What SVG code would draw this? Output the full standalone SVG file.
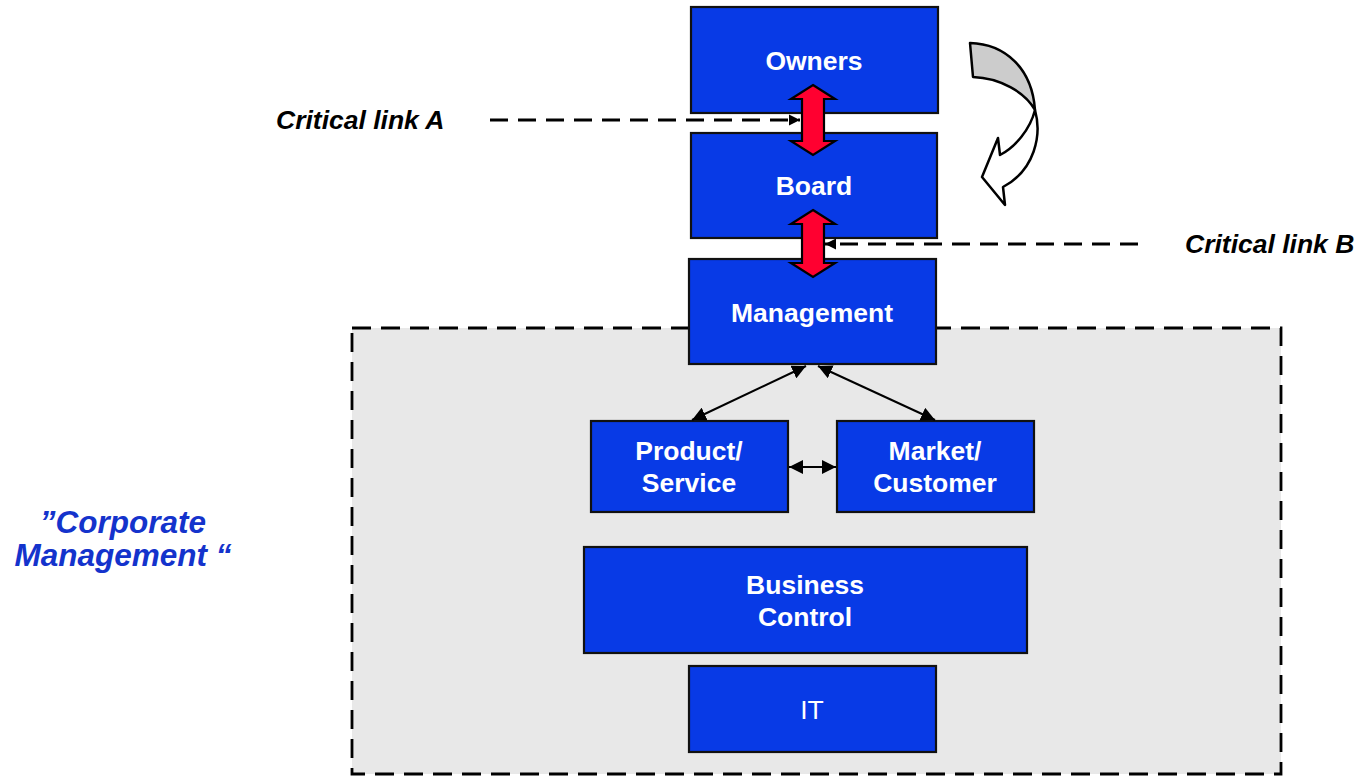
<svg xmlns="http://www.w3.org/2000/svg" width="1360" height="776" viewBox="0 0 1360 776">
  <defs>
    <style>
      .box { fill: #083ae6; stroke: #111; stroke-width: 2.2; }
      .lbl { font-family: "Liberation Sans", Arial, sans-serif; font-size: 26.5px; font-weight: bold; fill: #fff; text-anchor: middle; }
      .lbl-reg { font-family: "Liberation Sans", Arial, sans-serif; font-size: 26.5px; fill: #fff; text-anchor: middle; }
      .crit { font-family: "Liberation Sans", Arial, sans-serif; font-size: 26.5px; font-weight: bold; font-style: italic; fill: #000; }
      .corp { font-family: "Liberation Sans", Arial, sans-serif; font-size: 31.5px; font-weight: bold; font-style: italic; fill: #1433cc; text-anchor: middle; }
      .dash { fill: none; stroke: #000; stroke-width: 2.8; stroke-dasharray: 18 10; }
      .thin { fill: none; stroke: #000; stroke-width: 2; }
      .red { fill: #ff0030; stroke: #000; stroke-width: 2.2; stroke-linejoin: miter; }
    </style>
    <marker id="tri" viewBox="0 0 10 10" refX="10" refY="5" markerWidth="7" markerHeight="7" orient="auto-start-reverse" markerUnits="strokeWidth">
      <path d="M0,0 L10,5 L0,10 Z" fill="#000"/>
    </marker>
    <marker id="triS" viewBox="0 0 10 10" refX="10" refY="5" markerWidth="4" markerHeight="4" orient="auto" markerUnits="strokeWidth">
      <path d="M0,0 L10,5 L0,10 Z" fill="#000"/>
    </marker>
  </defs>

  <rect width="1360" height="776" fill="#fff"/>

  <!-- corporate management area -->
  <g id="area">
    <rect x="352" y="328" width="929" height="446" fill="#e8e8e8" stroke="#000" stroke-width="2.8" stroke-dasharray="19 10"/>
  </g>

  <g id="owners">
    <rect class="box" x="691" y="7" width="247" height="106"/>
    <text class="lbl" x="814" y="70">Owners</text>
  </g>
  <g id="board">
    <rect class="box" x="691" y="133" width="246" height="105"/>
    <text class="lbl" x="814" y="195">Board</text>
  </g>
  <g id="management">
    <rect class="box" x="689" y="259" width="247" height="105"/>
    <text class="lbl" x="812" y="322">Management</text>
  </g>
  <g id="product">
    <rect class="box" x="591" y="421" width="197" height="91"/>
    <text class="lbl" x="689" y="460">Product/</text>
    <text class="lbl" x="689" y="492">Service</text>
  </g>
  <g id="market">
    <rect class="box" x="837" y="421" width="197" height="91"/>
    <text class="lbl" x="935" y="460">Market/</text>
    <text class="lbl" x="935" y="492">Customer</text>
  </g>
  <g id="control">
    <rect class="box" x="584" y="547" width="443" height="106"/>
    <text class="lbl" x="805" y="594">Business</text>
    <text class="lbl" x="805" y="626">Control</text>
  </g>
  <g id="it">
    <rect class="box" x="689" y="666" width="247" height="86"/>
    <text class="lbl-reg" x="812" y="719">IT</text>
  </g>

  <g id="connectors">
    <!-- critical links between governance levels -->
    <path class="red" d="M813,85 L835,99 L824,99 L824,141 L835,141 L813,155 L791,141 L802,141 L802,99 L791,99 Z"/>
    <path class="red" d="M813,210 L835,224 L824,224 L824,263 L835,263 L813,277 L791,263 L802,263 L802,224 L791,224 Z"/>
    <line class="dash" x1="490" y1="120" x2="800" y2="120" marker-end="url(#triS)"/>
    <line class="dash" x1="1138" y1="244" x2="825" y2="244" marker-end="url(#triS)"/>
    <!-- management links -->
    <line class="thin" x1="806" y1="366" x2="692" y2="420" marker-start="url(#tri)" marker-end="url(#tri)"/>
    <line class="thin" x1="818" y1="366" x2="935" y2="420" marker-start="url(#tri)" marker-end="url(#tri)"/>
    <line class="thin" x1="789" y1="467" x2="836" y2="467" marker-start="url(#tri)" marker-end="url(#tri)"/>
    <!-- curved feedback arrow -->
    <path d="M970,43 C1005,44 1032,68 1035,110 C1025,92 1000,78 973,77 Z" fill="#cccccc" stroke="#000" stroke-width="2.5" stroke-linejoin="round"/>
    <path d="M1035,110 C1042,135 1035,170 1003,187 L1005,205 L982,177 L998,138 L1000,155 C1015,147 1030,130 1035,110 Z" fill="#fff" stroke="#000" stroke-width="2.5" stroke-linejoin="round"/>
  </g>

  <text class="crit" x="276" y="129">Critical link A</text>
  <text class="crit" x="1185" y="253">Critical link B</text>
  <text class="corp" x="123" y="533">”Corporate</text>
  <text class="corp" x="123" y="566">Management “</text>
</svg>
